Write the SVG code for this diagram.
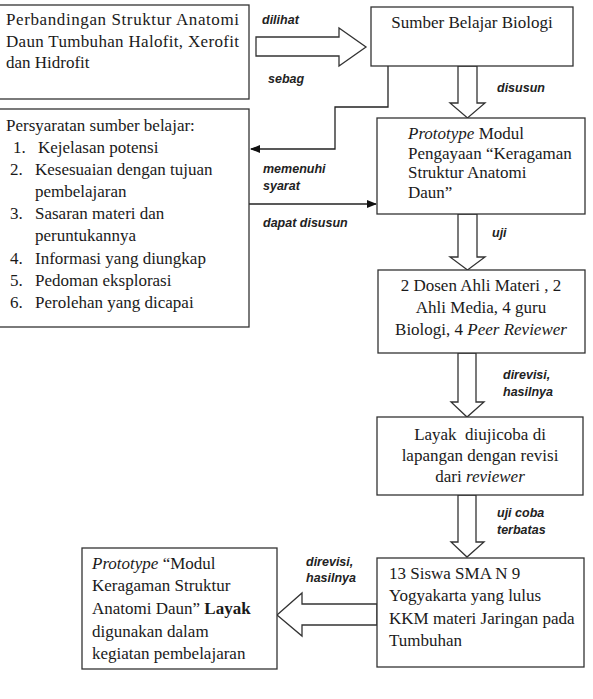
<svg xmlns="http://www.w3.org/2000/svg" width="593" height="699" viewBox="0 0 593 699">
<style>
.box{fill:#fff;stroke:#333;stroke-width:1.3}
.t{font-family:"Liberation Serif","Times New Roman",serif;font-size:17px;fill:#1a1a1a}
.c{text-anchor:middle}
.lbl{font-family:"Liberation Sans",Arial,sans-serif;font-size:12.5px;font-weight:bold;font-style:italic;fill:#222}
.hol{fill:#fff;stroke:#333;stroke-width:1.3;stroke-linejoin:miter}
.ln{fill:none;stroke:#222;stroke-width:1.3}
</style>
<defs>
<marker id="ah" markerWidth="10" markerHeight="8" refX="9" refY="4" orient="auto" markerUnits="userSpaceOnUse">
<path d="M0,0 L10,4 L0,8 z" fill="#111"/>
</marker>
</defs>
<rect width="593" height="699" fill="#fff"/>

<g id="connectors">
<polygon class="hol" points="256,37 339,37 339,28 366,47 339,66 339,56 256,56"/>
<polygon class="hol" points="458,66 477,66 477,103 485,103 467.5,118 450,103 458,103"/>
<polygon class="hol" points="458,214 477,214 477,257 485,257 467.5,270 450,257 458,257"/>
<polygon class="hol" points="458,353 476,353 476,402 484,402 467,417 451,402 458,402"/>
<polygon class="hol" points="458,495 476,495 476,542 484,542 467,557 451,542 458,542"/>
<polygon class="hol" points="377,604 302,604 302,593 277,615 302,636 302,625 377,625"/>
<polyline class="ln" points="388,66 388,107 335,107 335,149 251,149" marker-end="url(#ah)"/>
<line class="ln" x1="249" y1="204" x2="376" y2="204" marker-end="url(#ah)"/>
<text class="lbl" x="262" y="24">dilihat</text>
<text class="lbl" x="268" y="83">sebag</text>
<text class="lbl" x="497" y="92">disusun</text>
<text class="lbl" x="263" y="173">memenuhi</text>
<text class="lbl" x="263" y="190">syarat</text>
<text class="lbl" x="263" y="227">dapat disusun</text>
<text class="lbl" x="492" y="237">uji</text>
<text class="lbl" x="503" y="379">direvisi,</text>
<text class="lbl" x="503" y="396">hasilnya</text>
<text class="lbl" x="497" y="517">uji coba</text>
<text class="lbl" x="497" y="534">terbatas</text>
<text class="lbl" x="306" y="566">direvisi,</text>
<text class="lbl" x="306" y="582">hasilnya</text>
</g>

<g id="node-perbandingan">
<rect class="box" x="-1" y="5" width="250" height="94"/>
<text class="t" x="6" y="25" textLength="233" lengthAdjust="spacing">Perbandingan Struktur Anatomi</text>
<text class="t" x="6" y="47" textLength="233" lengthAdjust="spacing">Daun Tumbuhan Halofit, Xerofit</text>
<text class="t" x="6" y="68">dan Hidrofit</text>
</g>

<g id="node-sumber">
<rect class="box" x="371" y="7" width="202" height="59"/>
<text class="t c" x="472" y="28">Sumber Belajar Biologi</text>
</g>

<g id="node-persyaratan">
<rect class="box" x="-1" y="109" width="250" height="218"/>
<text class="t" x="6" y="131">Persyaratan sumber belajar:</text>
<text class="t" x="13" y="153">1.</text><text class="t" x="38" y="153">Kejelasan potensi</text>
<text class="t" x="10" y="175">2.</text><text class="t" x="35" y="175">Kesesuaian dengan tujuan</text>
<text class="t" x="35" y="197">pembelajaran</text>
<text class="t" x="10" y="219">3.</text><text class="t" x="35" y="219">Sasaran materi dan</text>
<text class="t" x="35" y="241">peruntukannya</text>
<text class="t" x="10" y="264">4.</text><text class="t" x="35" y="264">Informasi yang diungkap</text>
<text class="t" x="10" y="286">5.</text><text class="t" x="35" y="286">Pedoman eksplorasi</text>
<text class="t" x="10" y="308">6.</text><text class="t" x="35" y="308">Perolehan yang dicapai</text>
</g>

<g id="node-prototype">
<rect class="box" x="377" y="118" width="208" height="96"/>
<text class="t" x="408" y="139"><tspan font-style="italic">Prototype</tspan> Modul</text>
<text class="t" x="408" y="159">Pengayaan “Keragaman</text>
<text class="t" x="408" y="178">Struktur Anatomi</text>
<text class="t" x="408" y="198">Daun”</text>
</g>

<g id="node-dosen">
<rect class="box" x="378" y="270" width="207" height="83"/>
<text class="t c" x="481" y="291">2 Dosen Ahli Materi , 2</text>
<text class="t c" x="481" y="313">Ahli Media, 4 guru</text>
<text class="t c" x="481" y="335">Biologi, 4 <tspan font-style="italic">Peer Reviewer</tspan></text>
</g>

<g id="node-layak">
<rect class="box" x="377" y="417" width="206" height="78"/>
<text class="t c" x="480" y="440" style="white-space:pre">Layak  diujicoba di</text>
<text class="t c" x="480" y="461">lapangan dengan revisi</text>
<text class="t c" x="480" y="482">dari <tspan font-style="italic">reviewer</tspan></text>
</g>

<g id="node-siswa">
<rect class="box" x="377" y="558" width="207" height="109"/>
<text class="t" x="389" y="579">13 Siswa SMA N 9</text>
<text class="t" x="389" y="601">Yogyakarta yang lulus</text>
<text class="t" x="389" y="624">KKM materi Jaringan pada</text>
<text class="t" x="389" y="646">Tumbuhan</text>
</g>

<g id="node-hasil">
<rect class="box" x="82" y="548" width="195" height="121"/>
<text class="t" x="92" y="569"><tspan font-style="italic">Prototype</tspan> “Modul</text>
<text class="t" x="92" y="591">Keragaman Struktur</text>
<text class="t" x="92" y="614">Anatomi Daun” <tspan font-weight="bold">Layak</tspan></text>
<text class="t" x="92" y="637">digunakan dalam</text>
<text class="t" x="92" y="659">kegiatan pembelajaran</text>
</g>
</svg>
